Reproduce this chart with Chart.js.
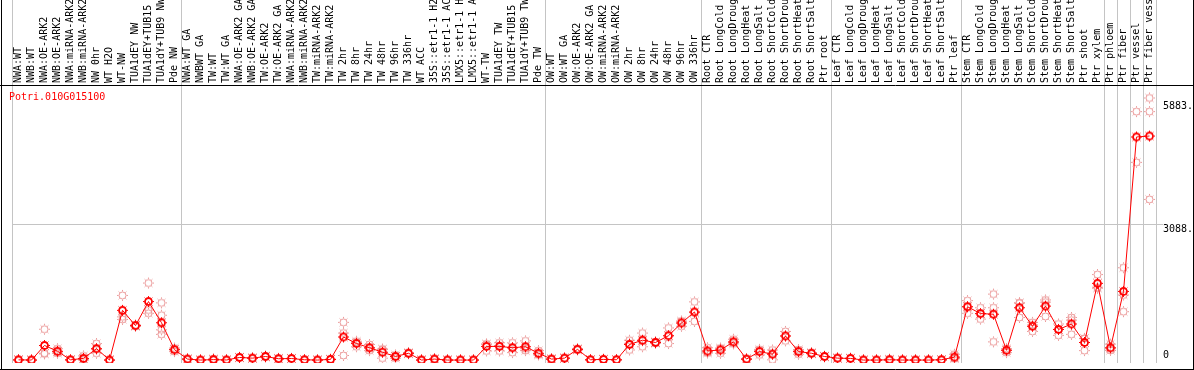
<!DOCTYPE html>
<html>
<head>
<meta charset="utf-8">
<script src="https://cdn.jsdelivr.net/npm/chart.js@4/dist/chart.umd.min.js"></script>
<style>
html, body { margin: 0; padding: 0; background: #fff; }
#wrap { width: 1194px; height: 370px; }
</style>
</head>
<body>
<div id="wrap"><canvas id="chart" width="1194" height="370"></canvas></div>
<script>
var geneName = 'Potri.010G015100';

var labels = [
    'NWA:WT', 'NWB:WT', 'NWA:OE-ARK2', 'NWB:OE-ARK2', 'NWA:miRNA-ARK2', 'NWB:miRNA-ARK2', 'NW 0hr', 'WT H2O', 'WT-NW',
    'TUA1dEY NW', 'TUA1dEY+TUB15 NW', 'TUA1dY+TUB9 NW', 'Pde NW',
    'NWA:WT GA', 'NWBWT GA', 'TW:WT', 'TW:WT GA', 'NWA:OE-ARK2 GA', 'NWB:OE-ARK2 GA', 'TW:OE-ARK2', 'TW:OE-ARK2 GA',
    'NWA:miRNA-ARK2 GA', 'NWB:miRNA-ARK2 GA', 'TW:miRNA-ARK2', 'TW:miRNA-ARK2 GA',
    'TW 2hr', 'TW 8hr', 'TW 24hr', 'TW 48hr', 'TW 96hr', 'TW 336hr', 'WT ACC',
    '35S::etr1-1 H2O', '35S::etr1-1 ACC', 'LMX5::etr1-1 H2O', 'LMX5::etr1-1 ACC',
    'WT-TW', 'TUA1dEY TW', 'TUA1dEY+TUB15 TW', 'TUA1dY+TUB9 TW', 'Pde TW',
    'OW:WT', 'OW:WT GA', 'OW:OE-ARK2', 'OW:OE-ARK2 GA', 'OW:miRNA-ARK2', 'OW:miRNA-ARK2 GA',
    'OW 2hr', 'OW 8hr', 'OW 24hr', 'OW 48hr', 'OW 96hr', 'OW 336hr',
    'Root CTR', 'Root LongCold', 'Root LongDrought', 'Root LongHeat', 'Root LongSalt',
    'Root ShortCold', 'Root ShortDrought', 'Root ShortHeat', 'Root ShortSalt', 'Ptr root',
    'Leaf CTR', 'Leaf LongCold', 'Leaf LongDrought', 'Leaf LongHeat', 'Leaf LongSalt',
    'Leaf ShortCold', 'Leaf ShortDrought', 'Leaf ShortHeat', 'Leaf ShortSalt', 'Ptr leaf',
    'Stem CTR', 'Stem LongCold', 'Stem LongDrought', 'Stem LongHeat', 'Stem LongSalt',
    'Stem ShortCold', 'Stem ShortDrought', 'Stem ShortHeat', 'Stem ShortSalt', 'Ptr shoot',
    'Ptr xylem', 'Ptr phloem', 'Ptr fiber', 'Ptr vessel', 'Ptr fiber vessel'
];

// mean expression per sample
var meanValues = [
    5, 0, 333, 200, 5, 38, 260, 0, 1133, 785, 1333, 850, 237,
    22, 0, 10, 2, 59, 44, 81, 30, 35, 7, 0, 15, 526, 377, 281, 178, 81, 155, 0, 22, 0, 0, 0, 311, 311, 281, 304, 155,
    22, 44, 244, 7, 15, 7, 355, 452, 400, 555, 844, 1096,
    207, 230, 415, 22, 193, 133, 548, 193, 155, 81,
    44, 37, 0, 0, 7, 0, 0, 0, 7, 67,
    1215, 1059, 1044, 222, 1192, 770, 1229, 696, 822, 400, 1748, 281, 1563, 5081, 5103
];

// replicates
var rep1 = [
    8, 0, 703, 260, 10, 96, 377, 0, 1473, 800, 1755, 1303, 274,
    30, 0, 30, 5, 65, 50, 95, 40, 40, 10, 0, 20, 859, 429, 355, 252, 118, 170, 0, 30, 0, 0, 0, 363, 393, 393, 437, 215,
    30, 50, 260, 10, 20, 10, 452, 615, 420, 733, 890, 1326,
    281, 275, 474, 30, 244, 230, 652, 240, 170, 90,
    50, 45, 0, 0, 22, 0, 0, 0, 10, 133,
    1355, 1192, 1503, 260, 1303, 859, 1370, 822, 970, 495, 1948, 363, 2103, 5659, 5970
];
var rep2 = [
    3, 0, 155, 185, 5, 18, 248, 0, 985, 770, 1140, 1022, 240,
    25, 0, 0, 0, 60, 44, 80, 30, 35, 7, 0, 15, 615, 400, 270, 240, 80, 150, 0, 22, 0, 0, 0, 363, 333, 280, 260, 130,
    22, 44, 244, 7, 15, 7, 380, 440, 400, 555, 870, 1081,
    180, 260, 400, 22, 215, 160, 550, 210, 150, 80,
    44, 37, 0, 0, 0, 0, 0, 0, 7, 40,
    1215, 1059, 1192, 230, 1300, 800, 1320, 700, 910, 489, 1660, 260, 1483, 4504, 5659
];
var rep3 = [
    0, 0, 141, 155, 0, 0, 155, 0, 926, 785, 1066, 689, 193,
    10, 0, 0, 0, 52, 38, 68, 20, 30, 4, 0, 10, 104, 304, 215, 44, 44, 145, 0, 14, 0, 0, 0, 207, 207, 170, 215, 118,
    14, 38, 230, 4, 10, 4, 230, 304, 380, 377, 770, 881,
    160, 155, 370, 14, 118, 7, 437, 133, 145, 72,
    38, 30, 0, 0, 0, 0, 0, 0, 4, 30,
    1066, 933, 415, 170, 970, 652, 993, 563, 585, 215, 1637, 220, 1103, null, 3659
];
// only TUA1dY+TUB9 NW has a fourth replicate
var rep4 = [];
rep4[11] = 585;

var yTicks = [0, 3088, 5883];
var yTickLabels = ['0', '3088.', '5883.'];
// sample index where a new group starts (88 = right edge)
var groupStarts = [0, 13, 41, 53, 63, 73, 84, 85, 86, 87, 88];

var monoFont = '10px "DejaVu Sans Mono", monospace';
var sepGray = '#c4c4c4';

function gearMarker(color, width) {
    var c = document.createElement('canvas');
    c.width = 13;
    c.height = 13;
    var g = c.getContext('2d');
    g.strokeStyle = color;
    g.lineWidth = width;
    g.beginPath();
    g.arc(6.5, 6.5, 3.5, 0, Math.PI * 2);
    g.stroke();
    g.lineWidth = 1;
    for (var a = 0; a < 8; a++) {
        var ang = a * Math.PI / 4;
        g.beginPath();
        g.moveTo(6.5 + Math.cos(ang) * 4, 6.5 + Math.sin(ang) * 4);
        g.lineTo(6.5 + Math.cos(ang) * 5.5, 6.5 + Math.sin(ang) * 5.5);
        g.stroke();
    }
    return c;
}

var meanMarker = gearMarker('#ff0000', 1.8);
var repMarker = gearMarker('#eb9a9a', 1);

function xSepColor(ctx) {
    if (ctx.type === 'scale' || groupStarts.indexOf(ctx.index) >= 0) return sepGray;
    return 'rgba(0,0,0,0)';
}
function ySepColor(ctx) {
    if (ctx.tick && ctx.tick.value === yTicks[1]) return sepGray;
    return 'rgba(0,0,0,0)';
}

function repDataset(values) {
    return {
        label: 'replicate',
        data: values,
        showLine: false,
        pointStyle: repMarker,
        pointRadius: 6,
        pointHoverRadius: 6
    };
}

// frame lines, gene name and the right-hand value labels
var decor = {
    id: 'decor',
    beforeDatasetsDraw: function(chart) {
        var ctx = chart.ctx;
        ctx.save();
        ctx.strokeStyle = '#000';
        ctx.lineWidth = 1;
        ctx.beginPath();
        ctx.moveTo(1.5, 0); ctx.lineTo(1.5, 370);
        ctx.moveTo(1193.5, 0); ctx.lineTo(1193.5, 370);
        ctx.moveTo(0, 369.5); ctx.lineTo(1194, 369.5);
        ctx.moveTo(0, chart.chartArea.top + 0.5); ctx.lineTo(1194, chart.chartArea.top + 0.5);
        ctx.stroke();

        ctx.font = monoFont;
        ctx.fillStyle = '#ff0000';
        ctx.textAlign = 'left';
        ctx.textBaseline = 'middle';
        ctx.fillText(geneName, 9, 97);

        var y = chart.scales.y;
        ctx.fillStyle = '#000';
        yTicks.forEach(function(v, i) {
            ctx.textBaseline = v === 0 ? 'bottom' : 'top';
            ctx.fillText(yTickLabels[i], chart.chartArea.right + 7, y.getPixelForValue(v));
        });
        ctx.restore();
    }
};

Chart.defaults.font.family = '"DejaVu Sans Mono", monospace';
Chart.defaults.font.size = 10;

var chart = new Chart(document.getElementById('chart'), {
    type: 'line',
    data: {
        labels: labels,
        datasets: [{
            label: geneName,
            data: meanValues,
            borderColor: '#ff0000',
            borderWidth: 1,
            pointStyle: meanMarker,
            pointRadius: 6,
            pointHoverRadius: 6,
            tension: 0
        }, repDataset(rep1), repDataset(rep2), repDataset(rep3), repDataset(rep4)]
    },
    options: {
        responsive: false,
        devicePixelRatio: 1,
        animation: false,
        layout: { padding: { left: 12, top: 0, right: 0, bottom: 0 } },
        plugins: {
            legend: { display: false },
            tooltip: { enabled: false },
            title: { display: false }
        },
        scales: {
            x: {
                position: 'top',
                offset: true,
                grid: {
                    offset: true,
                    color: xSepColor,
                    tickColor: xSepColor,
                    drawTicks: true,
                    tickLength: 85,
                    lineWidth: 1
                },
                border: { display: false },
                ticks: {
                    autoSkip: false,
                    minRotation: 90,
                    maxRotation: 90,
                    padding: -83,
                    labelOffset: 12,
                    color: '#000',
                    font: { family: '"DejaVu Sans Mono", monospace', size: 10 }
                },
                afterFit: function(s) { s.height = 85; }
            },
            y: {
                position: 'right',
                min: -67,
                max: 6265,
                afterBuildTicks: function(s) {
                    s.ticks = yTicks.map(function(v) { return { value: v }; });
                },
                grid: {
                    color: ySepColor,
                    tickColor: ySepColor,
                    drawTicks: true,
                    tickLength: 7
                },
                border: { display: false },
                ticks: { display: false },
                afterFit: function(s) { s.width = 38; }
            }
        }
    },
    plugins: [decor]
});
</script>
</body>
</html>
